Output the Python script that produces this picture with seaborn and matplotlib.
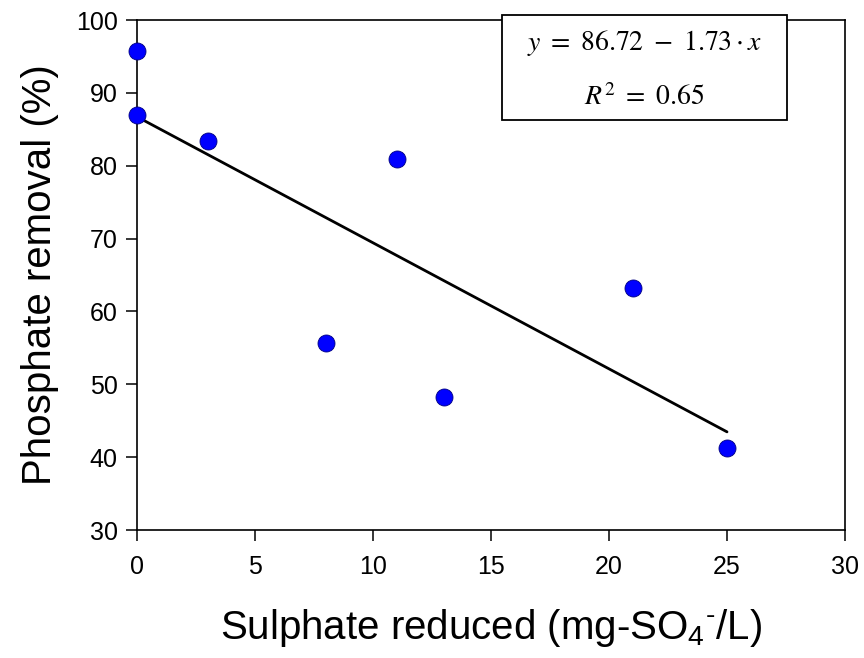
import matplotlib
matplotlib.use("Agg")
import matplotlib.pyplot as plt
from matplotlib.patches import Rectangle
import seaborn as sns
import numpy as np
import pandas as pd

# Data
sulphate_reduced = [0, 0, 3, 8, 11, 13, 21, 25]
phosphate_removal = [95.7, 86.9, 83.4, 55.6, 80.9, 48.2, 63.2, 41.2]
fit_intercept = 86.72
fit_slope = -1.73
r_squared = 0.65
x_ticks = [0, 5, 10, 15, 20, 25, 30]
y_ticks = [30, 40, 50, 60, 70, 80, 90, 100]

df = pd.DataFrame({"x": sulphate_reduced, "y": phosphate_removal})

sns.set_theme(style="ticks")
plt.rcParams['font.family'] = ['Liberation Sans', 'DejaVu Sans']
plt.rcParams['mathtext.fontset'] = 'custom'
plt.rcParams['mathtext.rm'] = 'Liberation Sans'
plt.rcParams['mathtext.it'] = 'Liberation Sans:italic'
plt.rcParams['text.color'] = 'black'
plt.rcParams['axes.labelcolor'] = 'black'

fig = plt.figure(figsize=(8.64, 6.58), dpi=100)
ax = fig.add_axes([137 / 864, 1 - 530 / 658, (845 - 137) / 864, (530 - 20) / 658])

# regression line over the data range
x_fit = np.array([min(sulphate_reduced), max(sulphate_reduced)])
y_fit = fit_intercept + fit_slope * x_fit
sns.lineplot(x=x_fit, y=y_fit, color="black", linewidth=2.0, ax=ax, legend=False)

sns.scatterplot(data=df, x="x", y="y", color="#0000ff", edgecolor="#000080",
                linewidth=0.6, s=150, ax=ax, zorder=3, legend=False, clip_on=False)

ax.set_xlim(0, 30)
ax.set_ylim(30, 100)
ax.set_xticks(x_ticks)
ax.set_yticks(y_ticks)
ax.tick_params(axis="both", direction="out", length=8, width=1.1,
               labelsize=18, colors="black", pad=6)
ax.tick_params(axis="x", pad=10)
for s in ax.spines.values():
    s.set_visible(True)
    s.set_linewidth(1.2)
    s.set_color("black")

ax.set_xlabel(r"Sulphate reduced (mg-SO$_4$$^{\text{-}}$/L)", fontsize=29, labelpad=20)
ax.set_ylabel("Phosphate removal (%)", fontsize=29, labelpad=12)

# equation box
box = Rectangle((502 / 864, 1 - 120 / 658), (787 - 502) / 864, (120 - 15) / 658,
                transform=fig.transFigure, facecolor="white", edgecolor="black",
                linewidth=1.3, zorder=5)
fig.patches.append(box)
cx = (502 + 787) / 2 / 864
fig.text(cx, 1 - 43 / 658,
         f"$y\\ =\\ {fit_intercept:.2f}\\ -\\ {abs(fit_slope):.2f}\\cdot x$",
         ha="center", va="center", fontsize=20, math_fontfamily="stix", zorder=6)
fig.text(cx, 1 - 98 / 658, f"$R^2\\ =\\ {r_squared:.2f}$",
         ha="center", va="center", fontsize=20, math_fontfamily="stix", zorder=6)

fig.savefig("out.png", dpi=100)
